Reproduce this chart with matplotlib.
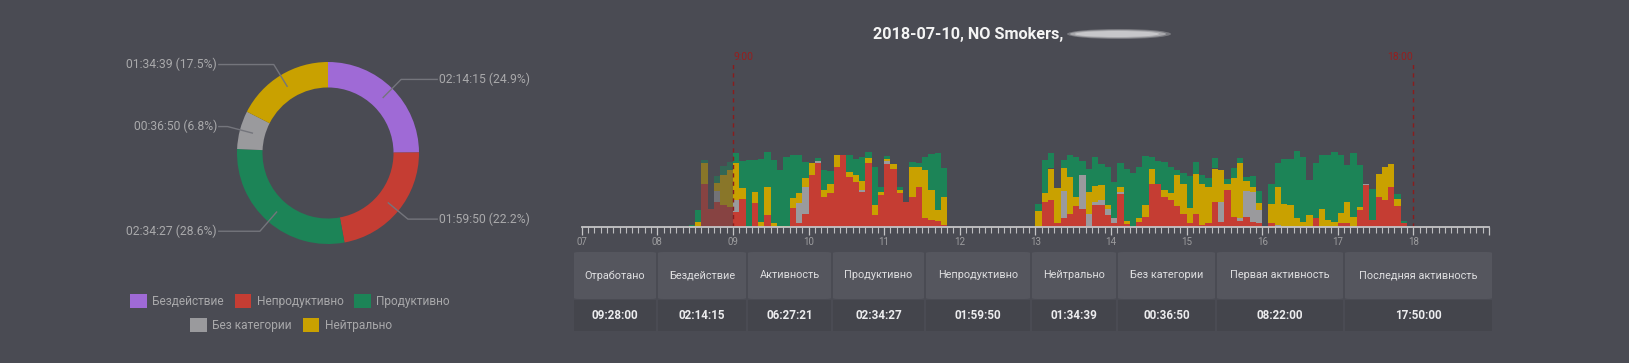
import matplotlib
matplotlib.use("Agg")
import matplotlib.pyplot as plt
from matplotlib.patches import Patch, Rectangle, FancyBboxPatch, Ellipse
import numpy as np

W, H = 1629, 363
BG = "#4a4b53"
FONT = ["Roboto", "DejaVu Sans"]
plt.rcParams["font.family"] = FONT

# ---------------- data ----------------
categories = ["Бездействие", "Непродуктивно", "Продуктивно", "Без категории", "Нейтрально"]
durations = ["02:14:15", "01:59:50", "02:34:27", "00:36:50", "01:34:39"]
percents = [24.9, 22.2, 28.6, 6.8, 17.5]
cat_colors = ["#9f6ad6", "#c53d33", "#1c8457", "#9a9a9d", "#c9a100"]

title = "2018-07-10, NO Smokers,"

# minutes per 5-minute bin; morning bins start at 08:20
morning_start = 8 + 20 / 60
morning_red = [0, 0, 0, 2.9, 1.18, 1.7, 1.5, 1.35,
               1.0, 1.9, 0, 1.6, 0, 0.8, 0, 0, 0, 1.25, 0.25, 0.9,
               3.5, 4.3, 2.0, 2.3, 4.0, 4.8, 3.35, 3.0, 2.35, 4.3, 0.8, 2.15,
               4.2, 3.85, 2.3, 1.7, 2.0, 2.7, 0.6, 0.5, 0.4, 0.13]
morning_gray = [0, 0, 0, 0, 0, 0.67, 0, 0,
                0.78, 0, 0, 0, 0, 0, 0, 0, 0, 0, 1.33, 1.8,
                0, 0.1, 0, 0, 0, 0, 0, 0, 0.15, 0, 0, 0,
                0.2, 0, 0, 0, 0, 0, 0, 0, 0, 0]
morning_yellow = [0, 0.1, 0.33, 1.35, 0, 0.55, 2.0, 2.45,
                  2.5, 0.67, 0, 0.75, 0.33, 1.9, 0.25, 0.1, 0.05, 0.67, 0.67, 0.55,
                  0.75, 0, 0.5, 0.55, 0.8, 0, 0.33, 0.45, 0.6, 0.3, 0.67, 0.2,
                  0.15, 0.35, 0.15, 0, 2.0, 1.3, 3.2, 1.95, 0.75, 1.9]
morning_green = [0, 0.05, 0.78, 0.2, 0, 0.5, 0.55, 0.55,
                 0.67, 1.8, 4.5, 2.1, 4.2, 2.3, 4.2, 3.7, 4.6, 2.9, 2.55, 1.1,
                 0, 0.2, 1.3, 0.9, 0, 0, 1.1, 1.1, 1.55, 0.4, 2.55, 0.33,
                 0.2, 0, 0.2, 0, 0.35, 0.3, 0.9, 2.45, 3.8, 1.9]

# afternoon bins start at 13:00
afternoon_start = 13.0
afternoon_red = [0, 1.7, 1.8, 0.3, 0.6, 0.9, 1.4, 1.2, 0.1, 1.45, 1.5, 0.8,
                 0.3, 2.2, 0.2, 0, 0.35, 0.7, 2.9, 2.9, 2.0, 1.8, 1.4, 0.9,
                 0.3, 0.9, 0.15, 0.3, 1.7, 0.35, 2.45, 0.7, 0.4, 0.7, 0.35, 0.25,
                 0, 0.25, 0, 0, 0, 0, 0, 0, 0.6, 0, 0, 0,
                 0.25, 0.25, 0, 1.15, 2.8, 0.45, 2.0, 1.8, 2.7, 1.4, 0.3]
afternoon_gray = [0, 0, 0, 0, 1.8, 0, 0, 2.3, 0.8, 0.2, 0.3, 0.4,
                  0.3, 0.15, 0, 0, 0, 0, 0, 0, 0, 0, 0, 0,
                  0, 0, 0, 0, 0, 1.35, 0, 0, 0.2, 1.67, 2.0, 0.9,
                  0, 0, 0.15, 0, 0, 0, 0, 0, 0, 0, 0, 0,
                  0, 0, 0, 0, 0.1, 0, 0, 0, 0, 0, 0]
afternoon_yellow = [1.1, 0.55, 2.1, 2.3, 1.55, 2.45, 0.6, 0, 1.45, 1.1, 1.0, 0.3,
                    0, 0.35, 0.2, 0, 0.25, 0.8, 1.0, 0, 0.45, 0.5, 2.1, 2.0,
                    1.0, 2.65, 2.75, 2.4, 2.2, 2.1, 0.45, 2.55, 3.65, 0.67, 0.35, 0.45,
                    0, 1.3, 2.5, 1.55, 1.45, 0.6, 0.35, 0.8, 0, 1.2, 0.45, 0.35,
                    0.67, 1.45, 0.7, 0.2, 0, 0, 1.55, 2.2, 1.5, 0.5, 0]
afternoon_green = [0.45, 2.2, 1.05, 0, 0.55, 1.45, 2.7, 0.9, 1.55, 1.95, 1.4, 2.5,
                   2.4, 1.6, 3.5, 3.6, 3.4, 3.2, 0.8, 1.5, 1.9, 1.7, 0.3, 0.7,
                   2.1, 0.8, 0.55, 0.6, 0.67, 0, 0.3, 0.67, 0.33, 0.3, 0.67, 0.8,
                   0, 1.3, 1.65, 3.0, 3.1, 4.45, 4.35, 2.35, 3.65, 3.6, 4.35, 4.65,
                   3.9, 2.45, 4.2, 2.8, 0, 2.1, 0, 0, 0, 0.33, 0.1]

work_start, work_end = 9.0, 18.0
work_labels = ["9:00", "18:00"]
hour_labels = ["07", "08", "09", "10", "11", "12", "13", "14", "15", "16", "17", "18", ""]

table_headers = ["Отработано", "Бездействие", "Активность", "Продуктивно", "Непродуктивно",
                 "Нейтрально", "Без категории", "Первая активность", "Последняя активность"]
table_values = ["09:28:00", "02:14:15", "06:27:21", "02:34:27", "01:59:50",
                "01:34:39", "00:36:50", "08:22:00", "17:50:00"]

# ---------------- figure ----------------
fig = plt.figure(figsize=(W / 100, H / 100), dpi=100, facecolor=BG)

def fx(px):
    return px / W

def fy(py):
    return 1 - py / H

# ---------------- donut ----------------
cx, cy, R = 328, 153, 91
half = R * 1.25
axp = fig.add_axes([fx(cx - half), fy(cy + half), 2 * half / W, 2 * half / H])
axp.set_facecolor("none")
wedges, _ = axp.pie(percents, colors=cat_colors, startangle=90, counterclock=False,
                    wedgeprops=dict(width=0.28, edgecolor="none"), radius=1.0)
axp.set_xlim(-1.25, 1.25)
axp.set_ylim(-1.25, 1.25)
axp.set_aspect("auto")
axp.axis("off")

for w, dur, pct in zip(wedges, durations, percents):
    ang = np.deg2rad((w.theta1 + w.theta2) / 2)
    c, s = np.cos(ang), np.sin(ang)
    x0, y0 = 0.86 * c, 0.86 * s
    x1, y1 = 1.14 * c, 1.14 * s
    side = 1 if c > 0 else -1
    x2 = 1.20 * side
    axp.plot([x0, x1, x2], [y0, y1, y1], color="#74757c", lw=1.0, clip_on=False)
    axp.text(x2 + 0.02 * side, y1, f"{dur} ({pct}%)", ha="left" if side > 0 else "right",
             va="center", fontsize=8.7, color="#a9a9ab", clip_on=False)

# legend (two centred rows)
handles = [Patch(facecolor=c, edgecolor="none") for c in cat_colors]
leg_kw = dict(frameon=False, fontsize=8.6, labelcolor="#a8a8aa", handlelength=1.4,
              handleheight=1.4, handletextpad=0.45, columnspacing=0.9, borderpad=0,
              loc="center")
leg1 = fig.legend(handles[:3], categories[:3], ncol=3, bbox_to_anchor=(fx(290), fy(301)), **leg_kw)
leg2 = fig.legend(handles[3:], categories[3:], ncol=2, bbox_to_anchor=(fx(291), fy(325)), **leg_kw)

# ---------------- timeline bars ----------------
x_left, x_right = 581.7, 1489
y_axis, y_top = 227, 57
ax = fig.add_axes([fx(x_left), fy(y_axis), (x_right - x_left) / W, (y_axis - y_top) / H])
ax.set_facecolor("none")
ymax = 5 * (y_axis - y_top) / 75
ax.set_xlim(7, 19)
ax.set_ylim(0, ymax)

bw = 5 / 60
series_order = [(1, "red"), (3, "gray"), (4, "yellow"), (2, "green")]

def draw_block(start, red, gray, yellow, green, dim_from=None, dim_to=None):
    arrs = {"red": np.array(red), "gray": np.array(gray),
            "yellow": np.array(yellow), "green": np.array(green)}
    n = len(red)
    xs = start + np.arange(n) * bw
    dim = np.zeros(n, bool)
    if dim_from is not None:
        dim = (xs >= dim_from - 1e-6) & (xs < dim_to - 1e-6)
    bottom = np.zeros(n)
    for ci, key in series_order:
        v = arrs[key]
        for mask, a in ((~dim, 1.0), (dim, 0.5)):
            if mask.any():
                ax.bar(xs[mask], v[mask], width=bw, bottom=bottom[mask], align="edge",
                       color=cat_colors[ci], alpha=a, linewidth=0)
        bottom = bottom + v

draw_block(morning_start, morning_red, morning_gray, morning_yellow, morning_green,
           dim_from=8 + 35 / 60, dim_to=9.0)
draw_block(afternoon_start, afternoon_red, afternoon_gray, afternoon_yellow, afternoon_green)

# work-hour markers
line_top = (y_axis - 63) / 15
for xv, lab, ha in zip([work_start, work_end], work_labels, ["left", "right"]):
    ax.plot([xv, xv], [0, line_top], color="#8a1c1c", lw=1.0, ls=(0, (3, 3)))
    ax.text(xv + (0.005 if ha == "left" else -0.01), ymax, lab, ha=ha, va="center",
            fontsize=7.4, color="#961e1e", clip_on=False)

for side in ["top", "left", "right"]:
    ax.spines[side].set_visible(False)
ax.spines["bottom"].set_color("#c4c4c6")
ax.spines["bottom"].set_linewidth(1.3)
ax.set_yticks([])
ax.set_xticks(np.arange(7, 20))
ax.set_xticklabels(hour_labels)
ax.set_xticks(np.arange(7, 19 + 1e-9, bw), minor=True)
ax.tick_params(axis="x", which="major", length=6, width=0.9, color="#c4c4c6",
               labelsize=7, labelcolor="#9c9c9e", pad=1.2)
ax.tick_params(axis="x", which="minor", length=4.5, width=0.8, color="#bdbdc0")

# title (name after the comma is redacted in the source: drawn as a blurred bar)
fig.text(fx(873), fy(34), title, ha="left", va="center", fontsize=11.7,
         fontweight="bold", color="#f4f4f4")
for (bx, by, bw_, bh, a) in [(1067, 34, 104, 10, 0.35), (1070, 34, 96, 8, 0.55),
                              (1075, 34, 84, 6, 0.8)]:
    fig.add_artist(Ellipse((fx(bx + bw_ / 2), fy(by)), bw_ / W, bh / H,
                           transform=fig.transFigure, facecolor="#d0d0d2",
                           edgecolor="none", alpha=a))

# ---------------- table ----------------
col_edges = [573, 657, 747, 832, 925, 1031, 1117, 1216, 1344, 1493]
hdr_top, hdr_bot, val_bot = 252, 299, 331
for i, (hdr, val) in enumerate(zip(table_headers, table_values)):
    x0, x1 = col_edges[i] + 1, col_edges[i + 1] - 1
    fig.add_artist(FancyBboxPatch((fx(x0), fy(hdr_bot)), (x1 - x0) / W, (hdr_bot - hdr_top) / H,
                                  boxstyle="round,pad=0,rounding_size=0.003",
                                  transform=fig.transFigure, facecolor="#55565e",
                                  edgecolor="none"))
    fig.add_artist(Rectangle((fx(x0), fy(val_bot)), (x1 - x0) / W, (val_bot - hdr_bot - 1) / H,
                             transform=fig.transFigure, facecolor="#44454c", edgecolor="none"))
    xc = (x0 + x1) / 2
    fig.text(fx(xc), fy((hdr_top + hdr_bot) / 2), hdr, ha="center", va="center",
             fontsize=7.8, color="#dedee0")
    fig.text(fx(xc), fy((hdr_bot + val_bot) / 2 + 0.5), val, ha="center", va="center",
             fontsize=8.4, fontweight="bold", color="#ececee")

fig.savefig("out.png", dpi=100, facecolor=BG)
